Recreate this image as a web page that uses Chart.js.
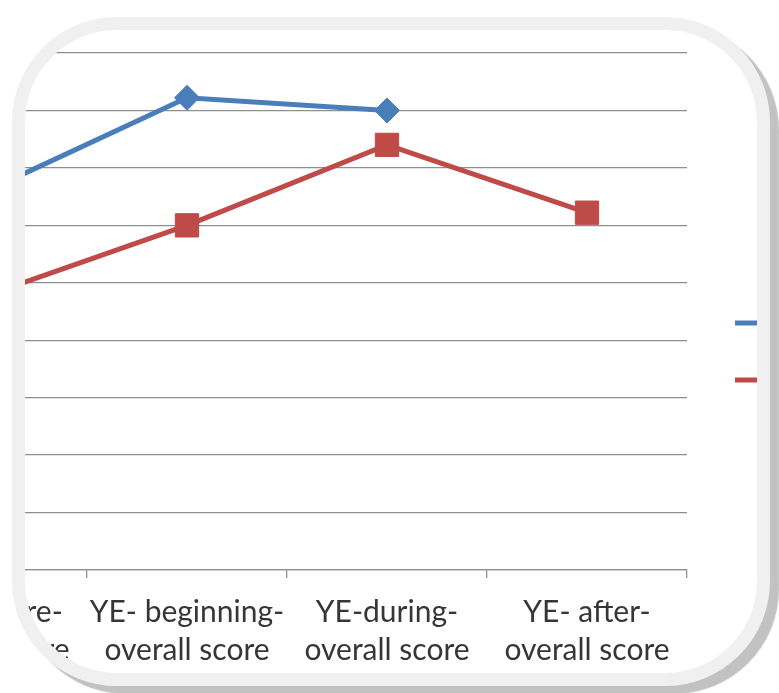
<!DOCTYPE html>
<html>
<head>
<meta charset="utf-8">
<script src="https://cdn.jsdelivr.net/npm/chart.js@4.4.1/dist/chart.umd.min.js"></script>
<style>
  html, body { margin: 0; padding: 0; background: #ffffff; overflow: hidden; }
  body { width: 779px; height: 693px; position: relative; }
  #frame {
    position: absolute;
    left: 12px; top: 17px;
    width: 758px; height: 669px;
    box-sizing: border-box;
    border: 13px solid #f0f0f0;
    border-radius: 105px;
    background: #ffffff;
    box-shadow: 9px 8px 1px #c2c2c2;
    overflow: hidden;
  }
  #chart { position: absolute; left: -300px; top: -30px; }
</style>
</head>
<body>
<div id="frame">
  <canvas id="chart" width="1112" height="693"></canvas>
</div>
<script>
// Survey stages on the category axis (two-line labels)
const categories = [
  ["YE- before-", "overall score"],
  ["YE- beginning-", "overall score"],
  ["YE-during-", "overall score"],
  ["YE- after-", "overall score"]
];

// Mean overall score per stage
const seriesNames = ["Experimental group overall", "Control group overall"];
const groupA = [3.30, 4.11, 4.00, null];
const groupB = [2.39, 3.00, 3.70, 3.11];

// Value axis range
const yMin = 0;
const yMax = 4.5;
const yStep = 0.5;

const BLUE = '#4a7ebb';
const RED = '#be4b48';
const GRID = '#8f8f8f';
const FONT = 'Lato, "Open Sans", sans-serif';
const LINE_W = 5;

new Chart(document.getElementById('chart'), {
  type: 'line',
  data: {
    labels: categories,
    datasets: [
      {
        label: seriesNames[0],
        data: groupA,
        borderColor: BLUE,
        backgroundColor: BLUE,
        borderWidth: LINE_W,
        pointStyle: 'rectRot',
        pointRadius: 12.5,
        pointBorderWidth: 1,
        pointBackgroundColor: BLUE,
        pointBorderColor: BLUE,
        tension: 0,
        spanGaps: false
      },
      {
        label: seriesNames[1],
        data: groupB,
        borderColor: RED,
        backgroundColor: RED,
        borderWidth: LINE_W,
        pointStyle: 'rect',
        pointRadius: 16.5,
        pointBorderWidth: 1,
        pointBackgroundColor: RED,
        pointBorderColor: RED,
        tension: 0
      }
    ]
  },
  options: {
    responsive: false,
    animation: false,
    events: [],
    layout: { padding: { left: 152, right: 0, top: 33, bottom: 23 } },
    scales: {
      x: {
        type: 'category',
        offset: true,
        afterFit: (s) => { s.height = 100; },
        grid: {
          offset: true,
          drawOnChartArea: false,
          drawTicks: true,
          tickLength: 8,
          color: GRID,
          lineWidth: 1.3
        },
        border: { display: true, color: GRID, width: 1.3 },
        ticks: {
          autoSkip: false,
          maxRotation: 0,
          minRotation: 0,
          padding: 15,
          color: '#363636',
          font: { family: FONT, size: 30, lineHeight: 1.27 }
        }
      },
      y: {
        min: yMin,
        max: yMax,
        afterFit: (s) => { s.width = 10; },
        ticks: { stepSize: yStep, display: false },
        grid: { color: GRID, lineWidth: 1.3, drawTicks: false },
        border: { display: false }
      }
    },
    plugins: {
      tooltip: { enabled: false },
      // empty heading strip above the plot area only
      title: {
        display: true,
        fullSize: false,
        text: '',
        padding: 4,
        font: { size: 10, lineHeight: 1.2 }
      },
      legend: {
        display: true,
        position: 'right',
        align: 'center',
        maxWidth: 150,
        labels: {
          usePointStyle: true,
          pointStyle: 'line',
          pointStyleWidth: 60,
          padding: 48,
          color: '#3a3a3a',
          font: { family: FONT, size: 9 },
          generateLabels: (chart) =>
            Chart.defaults.plugins.legend.labels.generateLabels(chart).map((item) => {
              const ds = chart.data.datasets[item.datasetIndex];
              item.lineWidth = ds.borderWidth;
              item.strokeStyle = ds.borderColor;
              return item;
            })
        }
      }
    }
  }
});
</script>
</body>
</html>
